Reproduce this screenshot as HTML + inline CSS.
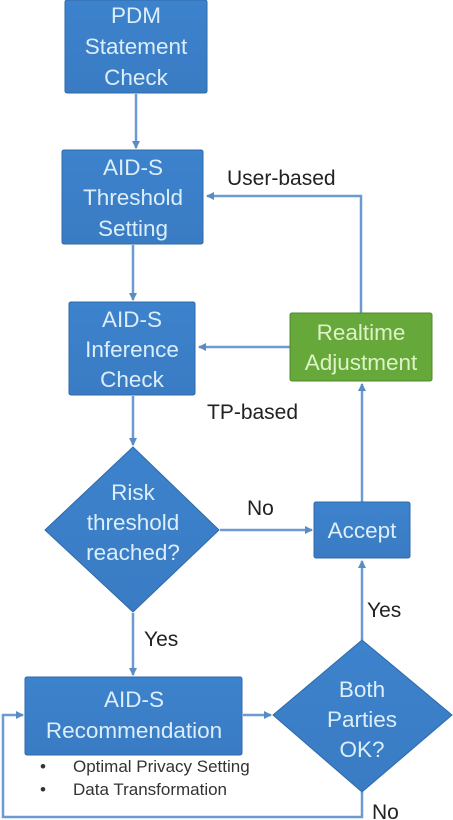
<!DOCTYPE html>
<html><head><style>
html,body{margin:0;padding:0;background:#fff;}
svg{display:block;}
text{font-family:"Liberation Sans",sans-serif;}
.n{fill:#dbeefa;font-size:22.5px;text-anchor:middle;}
.l{fill:#222;font-size:21px;}
.s{fill:#333;font-size:17px;}
</style></head><body>
<svg width="453" height="820" viewBox="0 0 453 820" xmlns="http://www.w3.org/2000/svg">
<defs>
<linearGradient id="b" x1="0" y1="0" x2="0" y2="1"><stop offset="0" stop-color="#3c82cc"/><stop offset="1" stop-color="#3a7cc4"/></linearGradient>
<marker id="a" markerWidth="8" markerHeight="8" refX="7" refY="4" orient="auto" markerUnits="userSpaceOnUse"><path d="M0,0 L8,4 L0,8 z" fill="#5a8cc4"/></marker>
</defs>
<g stroke="#6b9bd0" stroke-width="2.5" fill="none">
<line x1="136" y1="94" x2="136" y2="148" marker-end="url(#a)"/>
<line x1="133" y1="245" x2="133" y2="300" marker-end="url(#a)"/>
<polyline points="361,313 361,196 207,196" marker-end="url(#a)"/>
<line x1="290" y1="347" x2="199" y2="347" marker-end="url(#a)"/>
<line x1="133" y1="396" x2="133" y2="445" marker-end="url(#a)"/>
<line x1="220" y1="530" x2="312" y2="530" marker-end="url(#a)"/>
<line x1="362" y1="502" x2="362" y2="384" marker-end="url(#a)"/>
<line x1="133" y1="613" x2="133" y2="675" marker-end="url(#a)"/>
<line x1="243" y1="715" x2="271" y2="715" marker-end="url(#a)"/>
<line x1="362" y1="640" x2="362" y2="561" marker-end="url(#a)"/>
<polyline points="362,792 362,817 3,817 3,715 23,715" marker-end="url(#a)"/>
</g>
<g stroke="#2f6aa8" stroke-width="1" fill="url(#b)">
<rect x="65" y="0" width="142" height="93" rx="2"/>
<rect x="62" y="150" width="141" height="94" rx="2"/>
<rect x="69" y="302" width="126" height="93" rx="2"/>
<polygon points="133,447 219,530 133,612 45,530"/>
<rect x="314" y="502" width="96" height="56" rx="2"/>
<rect x="25" y="677" width="217" height="78" rx="2"/>
<polygon points="362,640 452,715 362,792 273,715"/>
</g>
<rect x="290" y="313" width="142" height="68" rx="2" fill="#66a839" stroke="#4e8a2a"/>
<text class="n" x="136" y="23">PDM</text>
<text class="n" x="136" y="54">Statement</text>
<text class="n" x="136" y="85">Check</text>
<text class="n" x="133" y="175">AID-S</text>
<text class="n" x="133" y="205">Threshold</text>
<text class="n" x="133" y="236">Setting</text>
<text class="n" x="132" y="327">AID-S</text>
<text class="n" x="132" y="357">Inference</text>
<text class="n" x="132" y="387">Check</text>
<text class="n" x="361" y="340" style="fill:#def2c8">Realtime</text>
<text class="n" x="361" y="370" style="fill:#def2c8">Adjustment</text>
<text class="n" x="133" y="500">Risk</text>
<text class="n" x="133" y="530">threshold</text>
<text class="n" x="133" y="560">reached?</text>
<text class="n" x="362" y="538">Accept</text>
<text class="n" x="134" y="707">AID-S</text>
<text class="n" x="134" y="738">Recommendation</text>
<text class="n" x="362" y="697">Both</text>
<text class="n" x="362" y="727">Parties</text>
<text class="n" x="362" y="757">OK?</text>
<text class="l" x="227" y="185">User-based</text>
<text class="l" x="207" y="419">TP-based</text>
<text class="l" x="247" y="515">No</text>
<text class="l" x="144" y="646">Yes</text>
<text class="l" x="367" y="617">Yes</text>
<text class="l" x="372" y="819">No</text>
<text class="s" x="40" y="772">•</text>
<text class="s" x="73" y="772">Optimal Privacy Setting</text>
<text class="s" x="40" y="795">•</text>
<text class="s" x="73" y="795">Data Transformation</text>
</svg>
</body></html>
